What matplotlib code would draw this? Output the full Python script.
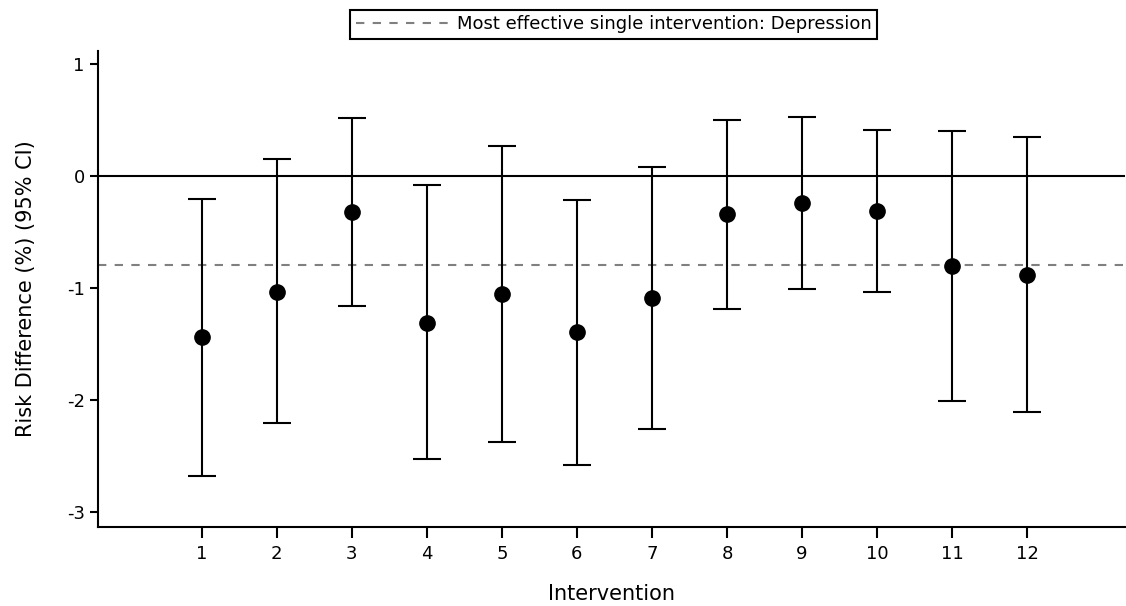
import matplotlib
matplotlib.use("Agg")
import matplotlib.pyplot as plt
import numpy as np

plt.rcParams["axes.unicode_minus"] = False

# Данные: оценки разницы рисков и 95% ДИ
interventions = [1, 2, 3, 4, 5, 6, 7, 8, 9, 10, 11, 12]
estimate = [-1.44, -1.03, -0.32, -1.31, -1.05, -1.39, -1.09, -0.34, -0.24, -0.31, -0.805, -0.88]
ci_low = [-2.68, -2.20, -1.16, -2.53, -2.37, -2.58, -2.26, -1.19, -1.01, -1.03, -2.01, -2.11]
ci_high = [-0.20, 0.15, 0.52, -0.08, 0.27, -0.21, 0.08, 0.50, 0.53, 0.415, 0.40, 0.35]
best_single = -0.79
best_label = "Most effective single intervention: Depression"

x = np.array(interventions)
y = np.array(estimate)
yerr = np.vstack([y - np.array(ci_low), np.array(ci_high) - y])

fig = plt.figure(figsize=(11.26, 6.06), dpi=100)
ax = fig.add_axes([0.087, 0.131, 0.912, 0.785])

ax.axhline(0, color="black", lw=1.5, zorder=1)
ref = ax.axhline(best_single, color="#808080", lw=1.5, ls=(0, (4, 4)), zorder=1,
                 label=best_label)
ax.errorbar(x, y, yerr=yerr, fmt="o", color="black", ms=11, lw=1.5,
            capsize=10, capthick=1.5, zorder=3)

ax.set_xlim(-0.38, 13.3)
ax.set_ylim(-3.13, 1.12)
ax.set_xticks(interventions)
ax.set_yticks([-3, -2, -1, 0, 1])
ax.tick_params(axis="both", direction="out", labelsize=13, width=1.5)
ax.tick_params(axis="x", length=8, pad=5)
ax.tick_params(axis="y", length=6)
for s in ["top", "right"]:
    ax.spines[s].set_visible(False)
for s in ["left", "bottom"]:
    ax.spines[s].set_linewidth(1.5)

ax.set_xlabel("Intervention", fontsize=15, labelpad=15)
ax.set_ylabel("Risk Difference (%) (95% CI)", fontsize=15, labelpad=22)

leg = fig.legend(handles=[ref], loc="upper center", bbox_to_anchor=(0.545, 0.984),
                 fontsize=13, fancybox=False, framealpha=1, edgecolor="black",
                 handlelength=5.2, borderpad=0.3, handletextpad=0.4,
                 borderaxespad=0)
leg.get_frame().set_linewidth(1.5)

fig.savefig("out.png", dpi=100)
